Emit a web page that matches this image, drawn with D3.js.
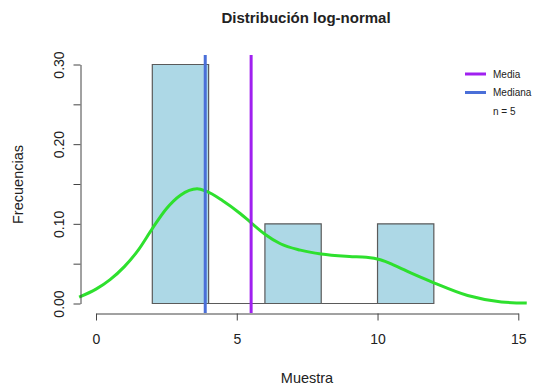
<!DOCTYPE html>
<html>
<head>
<meta charset="utf-8">
<script src="https://cdn.jsdelivr.net/npm/d3@7"></script>
<style>
  body { margin: 0; background: #fff; }
  svg text { font-family: "Liberation Sans", Arial, sans-serif; fill: #222; }
</style>
</head>
<body>
<svg id="chart" width="534" height="385"></svg>
<script>
// histogram bins (Muestra) and their frequencies
var binStart = [2, 4, 6, 8, 10];
var binEnd   = [4, 6, 8, 10, 12];
var binFreq  = [0.30, 0, 0.10, 0, 0.10];

// density curve
var densX = [-0.6, 0, 0.5, 1.0, 1.5, 2.0, 2.5, 3.0, 3.59, 3.91, 4.5, 5.12, 5.52, 6.0, 6.55, 7.26, 8.0, 9.0, 9.6, 10.1, 10.6, 11.2, 12.0, 13.2, 14.4, 15.3];
var densY = [0.008, 0.018, 0.030, 0.046, 0.067, 0.094, 0.119, 0.136, 0.144, 0.141, 0.129, 0.113, 0.101, 0.087, 0.075, 0.067, 0.062, 0.059, 0.058, 0.055, 0.048, 0.038, 0.026, 0.010, 0.002, 0.0005];

var media = 5.51, mediana = 3.88, n = 5;

var xTicks = [0, 5, 10, 15];
var yTicks = [0, 0.05, 0.10, 0.15, 0.20, 0.25, 0.30];

var svg = d3.select("#chart");

var x = d3.scaleLinear().domain([0, 15]).range([96, 518.3]);
var y = d3.scaleLinear().domain([0, 0.30]).range([303.5, 64.5]);

// bars (as closed paths so empty bins still show their base line)
var bins = binStart.map(function(d, i) { return {x0: d, x1: binEnd[i], f: binFreq[i]}; });
svg.selectAll(".bar")
    .data(bins)
  .enter().append("path")
    .attr("class", "bar")
    .attr("d", function(d) {
      var p = d3.path();
      p.moveTo(x(d.x0), y(0));
      p.lineTo(x(d.x0), y(d.f));
      p.lineTo(x(d.x1), y(d.f));
      p.lineTo(x(d.x1), y(0));
      p.closePath();
      return p.toString();
    })
    .attr("fill", "#add8e6")
    .attr("stroke", "#5a5a5a")
    .attr("stroke-width", 1.2);

// density
var dens = densX.map(function(d, i) { return [d, densY[i]]; });
svg.append("path")
    .datum(dens)
    .attr("fill", "none")
    .attr("stroke", "#2ee02e")
    .attr("stroke-width", 3)
    .attr("d", d3.line()
      .x(function(d) { return x(d[0]); })
      .y(function(d) { return y(d[1]); })
      .curve(d3.curveMonotoneX));

// mean / median lines over the whole plot region
var yTop = y(0.312), yBot = y(-0.012);
svg.append("line")
    .attr("x1", x(mediana)).attr("x2", x(mediana))
    .attr("y1", yTop).attr("y2", yBot)
    .attr("stroke", "#4a6fd8").attr("stroke-width", 3);
svg.append("line")
    .attr("x1", x(media)).attr("x2", x(media))
    .attr("y1", yTop).attr("y2", yBot)
    .attr("stroke", "#a020f0").attr("stroke-width", 3);

// axes
var xAxis = svg.append("g")
    .attr("transform", "translate(0,313.5)")
    .call(d3.axisBottom(x).tickValues(xTicks).tickSize(7).tickSizeOuter(0).tickPadding(14));

var yAxis = svg.append("g")
    .attr("transform", "translate(80.5,0)")
    .call(d3.axisLeft(y).tickValues(yTicks).tickSize(7).tickSizeOuter(0)
      .tickFormat(function(d) { return Math.round(d * 100) % 10 == 0 ? d3.format(".2f")(d) : ""; }));

svg.selectAll(".domain, .tick line").attr("stroke", "#444");
xAxis.selectAll("text").style("font-size", "14px").attr("fill", "#222");
yAxis.selectAll("text")
    .style("font-size", "14px")
    .attr("transform", "rotate(-90)")
    .attr("x", 0)
    .attr("y", -17)
    .attr("dy", "0")
    .style("text-anchor", "middle");

// titles
svg.append("text")
    .attr("x", 306).attr("y", 23)
    .attr("text-anchor", "middle")
    .style("font-size", "15px").style("font-weight", "bold")
    .text("Distribución log-normal");

svg.append("text")
    .attr("x", 307).attr("y", 383)
    .attr("text-anchor", "middle")
    .style("font-size", "14.5px")
    .text("Muestra");

svg.append("text")
    .attr("transform", "translate(23,184.5) rotate(-90)")
    .attr("text-anchor", "middle")
    .style("font-size", "14.5px")
    .text("Frecuencias");

// legend
var legend = [
  {label: "Media", color: "#a020f0"},
  {label: "Mediana", color: "#4a6fd8"},
  {label: "n = " + n, color: null}
];
var lg = svg.selectAll(".leg")
    .data(legend)
  .enter().append("g")
    .attr("class", "leg")
    .attr("transform", function(d, i) { return "translate(0," + (74 + i * 18.5) + ")"; });
lg.filter(function(d) { return d.color; }).append("line")
    .attr("x1", 465).attr("x2", 486)
    .attr("stroke", function(d) { return d.color; })
    .attr("stroke-width", 3);
lg.append("text")
    .attr("x", 493).attr("dy", "0.35em")
    .style("font-size", "10px")
    .text(function(d) { return d.label; });
</script>
</body>
</html>
